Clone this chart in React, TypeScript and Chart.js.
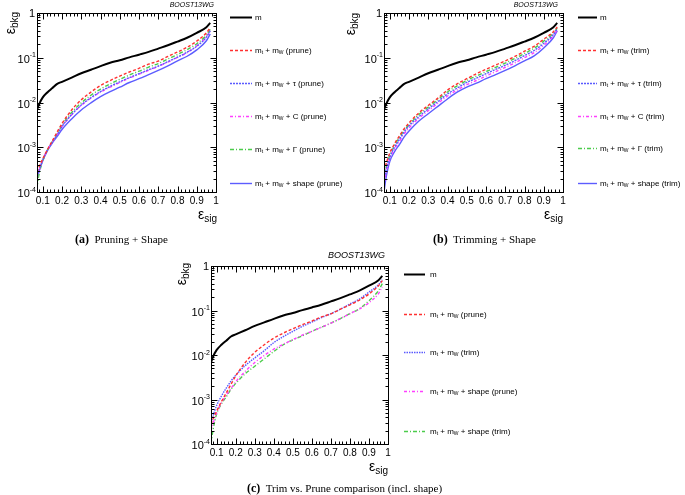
import React, { useEffect, useRef } from 'react';
import { Chart, registerables } from 'chart.js';
Chart.register(...registerables);

// ---------------- data ----------------
const sigEff = [0.07, 0.08, 0.1, 0.125, 0.15, 0.175, 0.2, 0.25, 0.3, 0.35, 0.4, 0.45, 0.5, 0.55, 0.6, 0.65, 0.7, 0.75, 0.8, 0.85, 0.9, 0.95, 0.97];

const massOnly = [0.0068, 0.009, 0.013, 0.017, 0.021, 0.026, 0.029, 0.036, 0.045, 0.054, 0.065, 0.077, 0.088, 0.102, 0.117, 0.135, 0.16, 0.19, 0.23, 0.28, 0.36, 0.48, 0.6];

const pruneMass = [2.8e-4, 3.6e-4, 5.5e-4, 9.0e-4, 1.4e-3, 2.2e-3, 3.4e-3, 6.8e-3, 0.0115, 0.017, 0.024, 0.031, 0.039, 0.048, 0.058, 0.072, 0.084, 0.107, 0.134, 0.172, 0.235, 0.36, 0.47];
const pruneTau = [2.2e-4, 3.0e-4, 5.2e-4, 8.8e-4, 1.3e-3, 1.9e-3, 2.9e-3, 5.4e-3, 0.0088, 0.0128, 0.0175, 0.023, 0.029, 0.036, 0.044, 0.054, 0.065, 0.082, 0.103, 0.133, 0.18, 0.29, 0.40];
const pruneC = [2.0e-4, 2.9e-4, 5.2e-4, 8.8e-4, 1.3e-3, 1.9e-3, 2.9e-3, 5.3e-3, 0.0086, 0.0125, 0.017, 0.022, 0.028, 0.035, 0.043, 0.052, 0.064, 0.080, 0.102, 0.13, 0.185, 0.29, 0.40];
const pruneGamma = [1.3e-4, 2.4e-4, 5.0e-4, 8.8e-4, 1.35e-3, 2.0e-3, 3.1e-3, 6.0e-3, 0.0098, 0.0145, 0.020, 0.026, 0.033, 0.041, 0.050, 0.062, 0.074, 0.094, 0.118, 0.152, 0.205, 0.32, 0.43];
const pruneShape = [2.0e-4, 2.8e-4, 5.0e-4, 8.5e-4, 1.25e-3, 1.75e-3, 2.5e-3, 4.3e-3, 0.0068, 0.0098, 0.0135, 0.0175, 0.022, 0.028, 0.034, 0.042, 0.052, 0.066, 0.085, 0.108, 0.15, 0.24, 0.34];

const trimMass = [3.0e-4, 4.2e-4, 7.4e-4, 1.2e-3, 1.8e-3, 2.6e-3, 3.5e-3, 5.8e-3, 8.6e-3, 0.0125, 0.019, 0.026, 0.034, 0.044, 0.055, 0.069, 0.085, 0.107, 0.14, 0.18, 0.26, 0.38, 0.49];
const trimTau = [1.8e-4, 3.0e-4, 6.0e-4, 1.0e-3, 1.5e-3, 2.2e-3, 3.0e-3, 4.8e-3, 7.2e-3, 0.0105, 0.0155, 0.021, 0.028, 0.035, 0.044, 0.055, 0.068, 0.086, 0.112, 0.145, 0.21, 0.33, 0.44];
const trimC = [1.4e-4, 2.6e-4, 5.5e-4, 9.2e-4, 1.35e-3, 2.0e-3, 2.7e-3, 4.4e-3, 6.6e-3, 9.6e-3, 0.014, 0.019, 0.025, 0.031, 0.039, 0.049, 0.061, 0.077, 0.10, 0.13, 0.19, 0.31, 0.42];
const trimGamma = [2.2e-4, 3.5e-4, 6.5e-4, 1.1e-3, 1.65e-3, 2.4e-3, 3.2e-3, 5.3e-3, 7.9e-3, 0.0115, 0.0172, 0.0235, 0.031, 0.039, 0.049, 0.061, 0.076, 0.096, 0.125, 0.163, 0.235, 0.35, 0.46];
const trimShape = [1.0e-4, 2.0e-4, 4.8e-4, 8.0e-4, 1.15e-3, 1.7e-3, 2.3e-3, 3.8e-3, 5.6e-3, 8.2e-3, 0.012, 0.017, 0.022, 0.027, 0.034, 0.042, 0.052, 0.066, 0.085, 0.11, 0.166, 0.28, 0.40];

const xTickValues = [0.1, 0.2, 0.3, 0.4, 0.5, 0.6, 0.7, 0.8, 0.9, 1.0];
const yDecadeExps = [-4, -3, -2, -1, 0];
const stampText = 'BOOST13WG';

// ---------------- styling ----------------
type Seg = { t: string; sub?: boolean; sup?: boolean };
type Series = { name: Seg[]; values: number[]; color: string; dash: number[]; width: number };
type Panel = {
  area: { left: number; right: number; top: number; bottom: number };
  stamp: { x: number; y: number; size: number };
  legend: { x1: number; x2: number; tx: number; ys: number[] };
  yTitle: { x: number; y: number };
  xTitle: { x: number; y: number };
  series: Series[];
};

const SANS = "'Liberation Sans', Arial, Helvetica, sans-serif";
const mtmw = (extra: string): Seg[] => [
  { t: 'm' }, { t: 't', sub: true }, { t: ' + m' }, { t: 'W', sub: true }, { t: extra },
];

const BLACK = { color: '#000000', dash: [] as number[], width: 2 };
const RED = { color: '#ff3030', dash: [3, 2], width: 1.4 };
const BLUE_DOT = { color: '#5a5aff', dash: [2, 1], width: 1.4 };
const MAGENTA = { color: '#ff40ff', dash: [3, 2, 1, 2], width: 1.4 };
const GREEN = { color: '#4ccc4c', dash: [4, 2, 1, 2], width: 1.4 };
const BLUE_SOLID = { color: '#5c5cff', dash: [] as number[], width: 1.4 };
const BLUE_TRIM = { color: '#5a5aff', dash: [1.5, 1], width: 1.4 };

const panels: Panel[] = [
  {
    area: { left: 37, right: 216, top: 13, bottom: 192 },
    stamp: { x: 214, y: 5, size: 7 },
    legend: { x1: 230, x2: 252, tx: 255, ys: [17, 50, 83, 116, 149, 183] },
    yTitle: { x: 11, y: 12 },
    xTitle: { x: 217, y: 215 },
    series: [
      { name: [{ t: 'm' }], values: massOnly, ...BLACK },
      { name: mtmw(' (prune)'), values: pruneMass, ...RED },
      { name: mtmw(' + τ (prune)'), values: pruneTau, ...BLUE_DOT },
      { name: mtmw(' + C (prune)'), values: pruneC, ...MAGENTA },
      { name: mtmw(' + Γ (prune)'), values: pruneGamma, ...GREEN },
      { name: mtmw(' + shape (prune)'), values: pruneShape, ...BLUE_SOLID },
    ],
  },
  {
    area: { left: 384, right: 563, top: 13, bottom: 192 },
    stamp: { x: 558, y: 5, size: 7 },
    legend: { x1: 578, x2: 597, tx: 600, ys: [17, 50, 83, 116, 148, 183] },
    yTitle: { x: 351, y: 13 },
    xTitle: { x: 563, y: 215 },
    series: [
      { name: [{ t: 'm' }], values: massOnly, ...BLACK },
      { name: mtmw(' (trim)'), values: trimMass, ...RED },
      { name: mtmw(' + τ (trim)'), values: trimTau, ...BLUE_DOT },
      { name: mtmw(' + C (trim)'), values: trimC, ...MAGENTA },
      { name: mtmw(' + Γ (trim)'), values: trimGamma, ...GREEN },
      { name: mtmw(' + shape (trim)'), values: trimShape, ...BLUE_SOLID },
    ],
  },
  {
    area: { left: 211, right: 388, top: 266, bottom: 444 },
    stamp: { x: 385, y: 255, size: 9 },
    legend: { x1: 404, x2: 425, tx: 430, ys: [274, 314, 352, 391, 431] },
    yTitle: { x: 182, y: 263 },
    xTitle: { x: 388, y: 467 },
    series: [
      { name: [{ t: 'm' }], values: massOnly, ...BLACK },
      { name: mtmw(' (prune)'), values: pruneMass, ...RED },
      { name: mtmw(' (trim)'), values: trimMass, ...BLUE_TRIM },
      { name: mtmw(' + shape (prune)'), values: pruneShape, ...MAGENTA },
      { name: mtmw(' + shape (trim)'), values: trimShape, ...GREEN },
    ],
  },
];

// ---------------- drawing helpers ----------------
function segFont(s: Seg, size: number, italic: boolean) {
  const sz = s.sub || s.sup ? Math.round(size * 0.68) : size;
  return `${italic ? 'italic ' : ''}${sz}px ${SANS}`;
}
function drawSegs(ctx: CanvasRenderingContext2D, segs: Seg[], x: number, y: number, size: number, align: 'left' | 'right', italic = false) {
  let w = 0;
  for (const s of segs) { ctx.font = segFont(s, size, italic); w += ctx.measureText(s.t).width; }
  let cx = align === 'right' ? x - w : x;
  ctx.textAlign = 'left';
  ctx.textBaseline = 'middle';
  for (const s of segs) {
    ctx.font = segFont(s, size, italic);
    const dy = s.sub ? size * 0.32 : s.sup ? -size * 0.4 : 0;
    ctx.fillText(s.t, cx, y + dy);
    cx += ctx.measureText(s.t).width;
  }
}

const X_AXIS_H = 20;

function framePlugin(p: Panel) {
  return {
    id: 'rootFrame',
    afterDraw(chart: any) {
      const ctx: CanvasRenderingContext2D = chart.ctx;
      const xs = chart.scales.x;
      const ys = chart.scales.y;
      const a = chart.chartArea;
      ctx.save();
      ctx.fillStyle = '#000';
      ctx.strokeStyle = '#000';
      ctx.lineWidth = 1;
      ctx.setLineDash([]);
      const L = Math.round(a.left) + 0.5, R = Math.round(a.right) + 0.5;
      const T = Math.round(a.top) + 0.5, B = Math.round(a.bottom) + 0.5;
      ctx.strokeRect(L, T, R - L, B - T);
      ctx.beginPath();
      for (let k = 4; k <= 50; k++) {
        const v = k * 0.02;
        const px = Math.round(xs.getPixelForValue(v)) + 0.5;
        const len = k % 5 === 0 ? 6 : 3;
        ctx.moveTo(px, B); ctx.lineTo(px, B - len);
        ctx.moveTo(px, T); ctx.lineTo(px, T + len);
      }
      for (let e = -4; e <= 0; e++) {
        for (let k = 1; k <= 9; k++) {
          const v = k * Math.pow(10, e);
          if (v > 1.0000001) break;
          const py = Math.round(ys.getPixelForValue(v)) + 0.5;
          const len = k === 1 ? 6 : 3;
          ctx.moveTo(L, py); ctx.lineTo(L + len, py);
          ctx.moveTo(R, py); ctx.lineTo(R - len, py);
        }
      }
      ctx.stroke();

      // y labels
      for (const e of yDecadeExps) {
        const py = ys.getPixelForValue(Math.pow(10, e));
        if (e === 0) {
          drawSegs(ctx, [{ t: '1' }], a.left - 2, py + 0.5, 11, 'right');
        } else {
          drawSegs(ctx, [{ t: '10' }, { t: String(e), sup: true }], a.left - 1, py + 2, 11, 'right');
        }
      }

      // legend
      p.series.forEach((s, i) => {
        const y = p.legend.ys[i] + 0.5;
        ctx.save();
        ctx.strokeStyle = s.color;
        ctx.lineWidth = s.width;
        ctx.setLineDash(s.dash);
        ctx.beginPath();
        ctx.moveTo(p.legend.x1, y);
        ctx.lineTo(p.legend.x2, y);
        ctx.stroke();
        ctx.restore();
        ctx.fillStyle = '#000';
        drawSegs(ctx, s.name, p.legend.tx, y, 8, 'left');
      });

      // axis titles
      ctx.save();
      ctx.translate(p.yTitle.x, p.yTitle.y);
      ctx.rotate(-Math.PI / 2);
      drawSegs(ctx, [{ t: 'ε' }, { t: 'bkg', sub: true }], 0, 0, 14, 'right');
      ctx.restore();
      drawSegs(ctx, [{ t: 'ε' }, { t: 'sig', sub: true }], p.xTitle.x, p.xTitle.y, 14, 'right');

      // stamp
      ctx.font = `italic ${p.stamp.size}px ${SANS}`;
      ctx.textAlign = 'right';
      ctx.textBaseline = 'middle';
      ctx.fillText(stampText, p.stamp.x, p.stamp.y);
      ctx.restore();
    },
  };
}

function PanelChart({ panel }: { panel: Panel }) {
  const ref = useRef<HTMLCanvasElement>(null);
  useEffect(() => {
    const a = panel.area;
    const chart = new Chart(ref.current as HTMLCanvasElement, {
      type: 'line',
      data: {
        datasets: panel.series.map((s) => ({
          label: s.name.map((g) => g.t).join(''),
          data: sigEff.map((x, i) => ({ x, y: s.values[i] })),
          borderColor: s.color,
          borderDash: s.dash,
          borderWidth: s.width,
          pointRadius: 0,
          fill: false,
          cubicInterpolationMode: 'monotone',
        })),
      },
      options: {
        animation: false,
        responsive: false,
        devicePixelRatio: 1,
        layout: { padding: { left: a.left, top: a.top, right: 685 - a.right, bottom: 495 - a.bottom - X_AXIS_H } },
        plugins: { legend: { display: false }, tooltip: { enabled: false } },
        scales: {
          x: {
            type: 'linear',
            min: 0.07,
            max: 1.0,
            grid: { display: false, drawTicks: false },
            border: { display: false },
            afterFit: (s: any) => { s.height = X_AXIS_H; },
            afterBuildTicks: (s: any) => { s.ticks = xTickValues.map((v) => ({ value: v })); },
            ticks: {
              autoSkip: false,
              maxRotation: 0,
              minRotation: 0,
              padding: 3,
              color: '#000',
              font: { family: SANS, size: 10 },
              callback: (v: any) => (Number(v) === 1 ? '1' : Number(v).toFixed(1)),
            },
          },
          y: {
            type: 'logarithmic',
            min: 1e-4,
            max: 1,
            grid: { display: false, drawTicks: false },
            border: { display: false },
            ticks: { display: false },
            afterFit: (s: any) => { s.width = 0; },
          },
        },
      } as any,
      plugins: [framePlugin(panel)],
    });
    return () => chart.destroy();
  }, [panel]);
  return (
    <canvas
      ref={ref}
      width={685}
      height={495}
      style={{ position: 'absolute', left: 0, top: 0, width: 685, height: 495 }}
    />
  );
}

const SERIF = "'Liberation Serif', 'Times New Roman', serif";
function Caption({ left, top, tag, text }: { left: number; top: number; tag: string; text: string }) {
  return (
    <div style={{ position: 'absolute', left, top, fontFamily: SERIF, fontSize: 11, lineHeight: '13px', whiteSpace: 'nowrap', color: '#000' }}>
      <span style={{ fontWeight: 'bold', fontSize: 12 }}>{tag}</span>
      <span>{'\u00a0 ' + text}</span>
    </div>
  );
}

export default function App() {
  return (
    <div style={{ position: 'absolute', left: 0, top: 0, width: 685, height: 495, background: '#fff', overflow: 'hidden' }}>
      {panels.map((p, i) => (
        <PanelChart key={i} panel={p} />
      ))}
      <Caption left={75} top={233} tag="(a)" text="Pruning + Shape" />
      <Caption left={433} top={233} tag="(b)" text="Trimming + Shape" />
      <Caption left={247} top={482} tag="(c)" text="Trim vs. Prune comparison (incl. shape)" />
    </div>
  );
}
